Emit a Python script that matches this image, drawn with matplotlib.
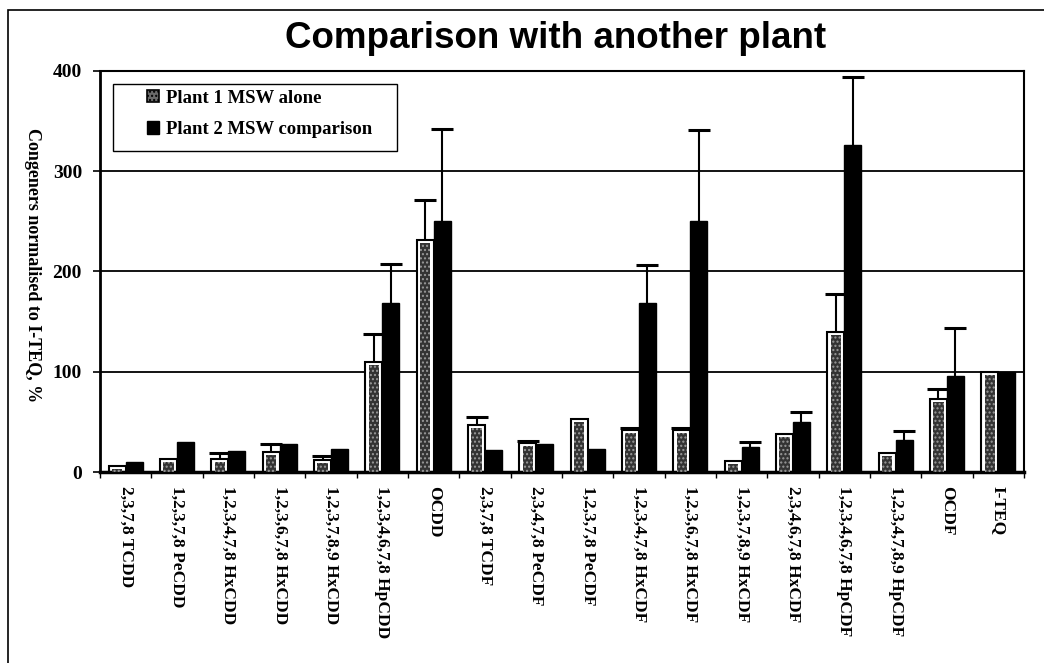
import numpy as np
import matplotlib
matplotlib.use("Agg")
import matplotlib.pyplot as plt
from matplotlib.patches import Rectangle, Patch

# congeners on the x axis
congeners = ["2,3,7,8 TCDD", "1,2,3,7,8 PeCDD", "1,2,3,4,7,8 HxCDD",
             "1,2,3,6,7,8 HxCDD", "1,2,3,7,8,9 HxCDD", "1,2,3,4,6,7,8 HpCDD",
             "OCDD", "2,3,7,8 TCDF", "2,3,4,7,8 PeCDF", "1,2,3,7,8 PeCDF",
             "1,2,3,4,7,8 HxCDF", "1,2,3,6,7,8 HxCDF", "1,2,3,7,8,9 HxCDF",
             "2,3,4,6,7,8 HxCDF", "1,2,3,4,6,7,8 HpCDF", "1,2,3,4,7,8,9 HpCDF",
             "OCDF", "I-TEQ"]

plant1 = [6, 13, 13, 20, 12, 110, 231, 47, 29, 53, 42, 42, 11, 38, 140, 19, 73, 100]
plant1_err = [0, 0, 6, 8, 4, 28, 40, 8, 2, 0, 2, 2, 0, 0, 38, 0, 10, 0]
plant2 = [10, 30, 21, 28, 23, 169, 250, 22, 28, 23, 169, 250, 25, 50, 326, 32, 96, 100]
plant2_err = [0, 0, 0, 0, 0, 38, 92, 0, 0, 0, 37, 91, 5, 10, 68, 9, 48, 0]

yticks = [0, 100, 200, 300, 400]

serif = "Liberation Serif"

fig = plt.figure(figsize=(10.44, 6.63), dpi=100)
ax = fig.add_axes([0.0958, 0.288, 0.885, 0.605])

x = np.arange(len(congeners))
w = 0.33
p1 = np.array(plant1, dtype=float)
p2 = np.array(plant2, dtype=float)
e1 = np.array(plant1_err, dtype=float)
e2 = np.array(plant2_err, dtype=float)

# gridlines
for v in yticks[1:-1]:
    ax.axhline(v, color="black", lw=1.3, zorder=1)

# plant 1: outlined box with a stippled grey core
ax.bar(x - w / 2, p1, width=w, color="white", edgecolor="black", lw=1.5, zorder=2)
ax.bar(x - w / 2, np.clip(p1 - 3, 0, None), width=w * 0.62, color="#333333",
       edgecolor="#9a9a9a", hatch="....", lw=0, zorder=3)
# plant 2: solid black
ax.bar(x + w / 2, p2, width=w, color="black", edgecolor="black", lw=1, zorder=2)

# upper error bars only (hide the lower cap sitting on the bar top)
for xs, vals, errs in [(x - w / 2, p1, e1), (x + w / 2, p2, e2)]:
    m = errs > 0
    eb = ax.errorbar(xs[m], vals[m], yerr=[np.zeros(m.sum()), errs[m]], fmt="none",
                     ecolor="black", elinewidth=1.5, capsize=8, capthick=2.2, zorder=4)
    eb[1][0].set_visible(False)

ax.set_xlim(-0.5, len(congeners) - 0.5)
ax.set_ylim(0, 400)
ax.set_yticks(yticks)
ax.set_yticklabels([str(v) for v in yticks], family=serif, fontweight="bold", fontsize=14)
ax.tick_params(axis="y", direction="out", length=5, width=1.2, pad=8)

# ticks between categories, labels centred on categories
ax.set_xticks(np.arange(len(congeners) + 1) - 0.5)
ax.set_xticklabels([])
ax.set_xticks(x, minor=True)
ax.set_xticklabels(congeners, minor=True, rotation=-90, family=serif,
                   fontweight="bold", fontsize=12.5, va="top", ha="center")
ax.tick_params(axis="x", which="major", direction="out", length=4, width=1)
ax.tick_params(axis="x", which="minor", length=0, pad=10)

for s in ax.spines.values():
    s.set_linewidth(1.5)
ax.spines["left"].set_linewidth(2)
ax.spines["bottom"].set_linewidth(2.5)

# legend box drawn separately so its padding matches the original
ax.add_patch(Rectangle((0.014, 0.80), 0.307, 0.168, transform=ax.transAxes,
                       facecolor="white", edgecolor="black", lw=1, zorder=5))
handles = [Patch(facecolor="#6a6a6a", edgecolor="black", hatch="....", lw=1.2),
           Patch(facecolor="black", edgecolor="black")]
leg = ax.legend(handles, ["Plant 1 MSW alone", "Plant 2 MSW comparison"],
                loc="upper left", bbox_to_anchor=(0.051, 0.953), borderaxespad=0,
                borderpad=0, frameon=False,
                prop={"family": serif, "weight": "bold", "size": 13.5},
                handlelength=0.65, handleheight=0.65, handletextpad=0.35,
                labelspacing=0.75)
leg.set_zorder(6)

fig.text(0.532, 0.942, "Comparison with another plant", ha="center", va="center",
         family="Liberation Sans", fontweight="bold", fontsize=26.5)
fig.text(0.031, 0.6, "Congeners normalised to I-TEQ, %", rotation=-90,
         ha="center", va="center", family=serif, fontweight="bold", fontsize=13)

# outer frame of the scanned chart
fig.patches.append(Rectangle((8 / 1044, -0.2), 1.2, 1.2 - 10 / 663,
                             transform=fig.transFigure, fill=False,
                             edgecolor="black", lw=1.2))

fig.savefig("out.png", dpi=100)
